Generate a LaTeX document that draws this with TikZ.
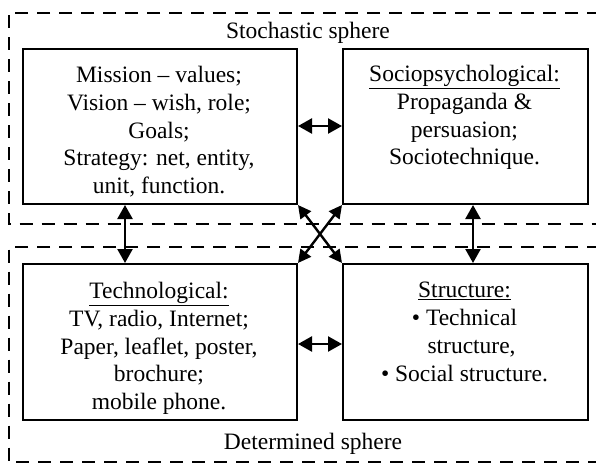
\documentclass[tikz,border=0pt]{standalone}
\usepackage{fontspec}
\setmainfont{Liberation Serif}
\usetikzlibrary{arrows.meta}
\begin{document}
\begin{tikzpicture}[x=1pt,y=-1pt,
  box/.style={draw, line width=2pt, rectangle, inner sep=0pt, anchor=north west},
  sphere/.style={line width=2pt, dash pattern=on 13pt off 9pt},
  link/.style={line width=2.4pt, {Triangle[length=14pt,width=15pt]}-{Triangle[length=14pt,width=15pt]}},
  xlink/.style={line width=2.4pt, {Triangle[length=13pt,width=13pt]}-{Triangle[length=13pt,width=13pt]}},
  txt/.style={align=center, anchor=north, inner sep=0pt, font=\fontsize{23.5}{27.8}\selectfont},
  lbl/.style={inner sep=0pt, font=\fontsize{23.5}{27.8}\selectfont}]
\useasboundingbox (0,0) rectangle (596,463);
% spheres
\draw[sphere] (600,12.5) -- (8.5,12.5) -- (8.5,224) -- (600,224);
\draw[sphere] (600,247) -- (8.5,247) -- (8.5,462) -- (600,462);
\node[lbl] (stoch) at (308,33) {Stochastic sphere};
\node[lbl] (det) at (313,444) {Determined sphere};
% boxes
\node[box, minimum width=274pt, minimum height=155pt] (m) at (22,48) {};
\node[box, minimum width=245pt, minimum height=155pt] (p) at (342,48) {};
\node[box, minimum width=274pt, minimum height=156pt] (t) at (22,263) {};
\node[box, minimum width=245pt, minimum height=156pt] (s) at (342,263) {};
% texts
\node[txt] (mt) at (159,66) {Mission – values;\\ Vision – wish, role;\\ Goals;\\ Strategy: net, entity,\\ unit, function.};
\node[txt] (pt) at (464.5,65) {\underline{Sociopsychological:}\\ Propaganda \&\\ persuasion;\\ Sociotechnique.};
\node[txt] (tt) at (159,282) {\underline{Technological:}\\ TV, radio, Internet;\\ Paper, leaflet, poster,\\ brochure;\\ mobile phone.};
\node[txt] (st) at (464.5,282) {\underline{Structure:}\\ • Technical\\ \hphantom{• }structure,\\ • Social structure.};
% connectors
\draw[link] ([yshift=-78pt]m.north east) -- ([yshift=-78pt]p.north west);
\draw[link] ([yshift=-81pt]t.north east) -- ([yshift=-81pt]s.north west);
\draw[link] ([xshift=103pt]m.south west) -- ([xshift=103pt]t.north west);
\draw[link] ([xshift=131pt]p.south west) -- ([xshift=131pt]s.north west);
\draw[xlink] (m.south east) -- (s.north west);
\draw[xlink] (p.south west) -- (t.north east);
\end{tikzpicture}
\end{document}
